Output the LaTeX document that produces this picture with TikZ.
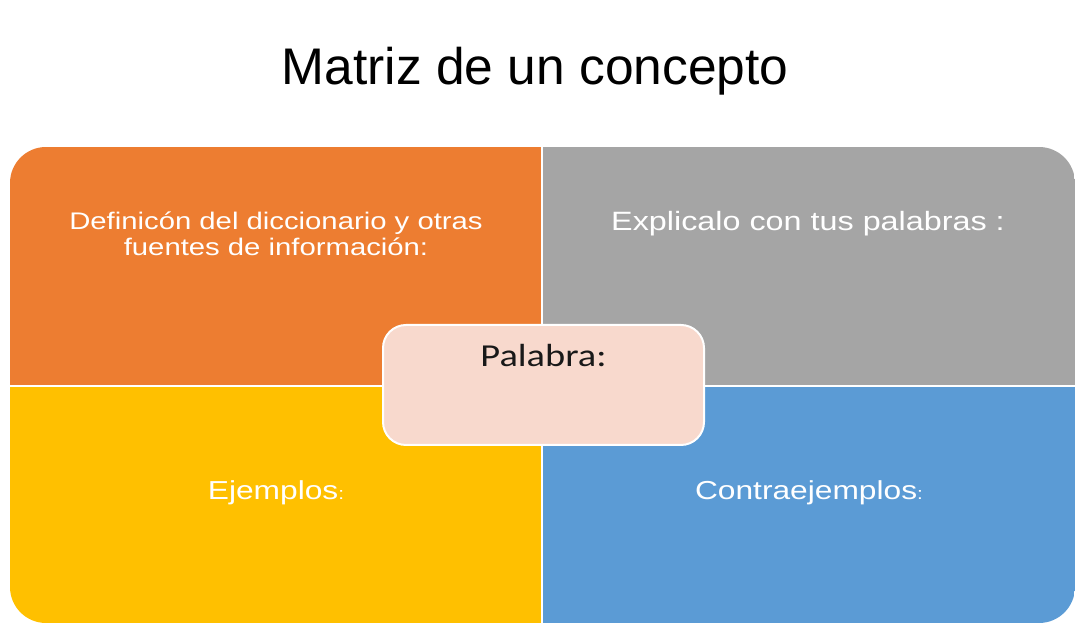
\documentclass[tikz,border=0pt]{standalone}
\usepackage{fontspec}
\setmainfont{Liberation Sans}
\newfontfamily\boxfont[FakeStretch=1.22]{Liberation Sans}
\newfontfamily\wordfont[FakeStretch=1.2]{Carlito}
\definecolor{qorange}{HTML}{ED7D31}
\definecolor{qgray}{HTML}{A5A5A5}
\definecolor{qyellow}{HTML}{FFC000}
\definecolor{qblue}{HTML}{5B9BD5}
\definecolor{qpink}{HTML}{F8D9CD}
\tikzset{
  quadtext/.style={text=white, align=center, font=\boxfont\fontsize{26}{30}\selectfont},
  wordbox/.style={draw=white, line width=2pt, fill=qpink, rounded corners=23pt,
    minimum width=321pt, minimum height=120pt, inner sep=0pt},
}
\begin{document}
\begin{tikzpicture}[x=1pt,y=1pt]
\useasboundingbox (0,0) rectangle (1078,628);
% title
\node[anchor=base, font=\fontsize{51.5}{60}\selectfont] (title) at (535,543) {Matriz de un concepto};

% four quadrants
\begin{scope}
\clip[rounded corners=36pt] (10,5) rectangle (1075,481);
\fill[qorange] (10,242) rectangle (542,481);
\fill[qgray] (542,242) rectangle (1075,481);
\fill[qyellow] (10,5) rectangle (542,242);
\fill[qblue] (542,5) rectangle (1075,242);
\draw[white, line width=2.5pt] (542,0)--(542,490) (0,242)--(1080,242);
\end{scope}

% quadrant texts
\node[quadtext, font=\boxfont\fontsize{24}{26}\selectfont] (defn) at (276,394) {Definicón del diccionario y otras\\fuentes de información:};
\node[quadtext, font=\boxfont\fontsize{26.5}{30}\selectfont] (explain) at (808,404) {Explicalo con tus palabras :};
\node[quadtext] (examples) at (276,135) {Ejemplos{\fontsize{17}{20}\selectfont:}};
\node[quadtext] (counter) at (809,135) {Contraejemplos{\fontsize{17}{20}\selectfont:}};

% centre box
\node[wordbox] (word) at (543.5,243) {};
\node[font=\wordfont\fontsize{32}{36}\selectfont, text=black!90] (wordlabel) at ([yshift=-32pt]word.north) {Palabra:};

\end{tikzpicture}
\end{document}
